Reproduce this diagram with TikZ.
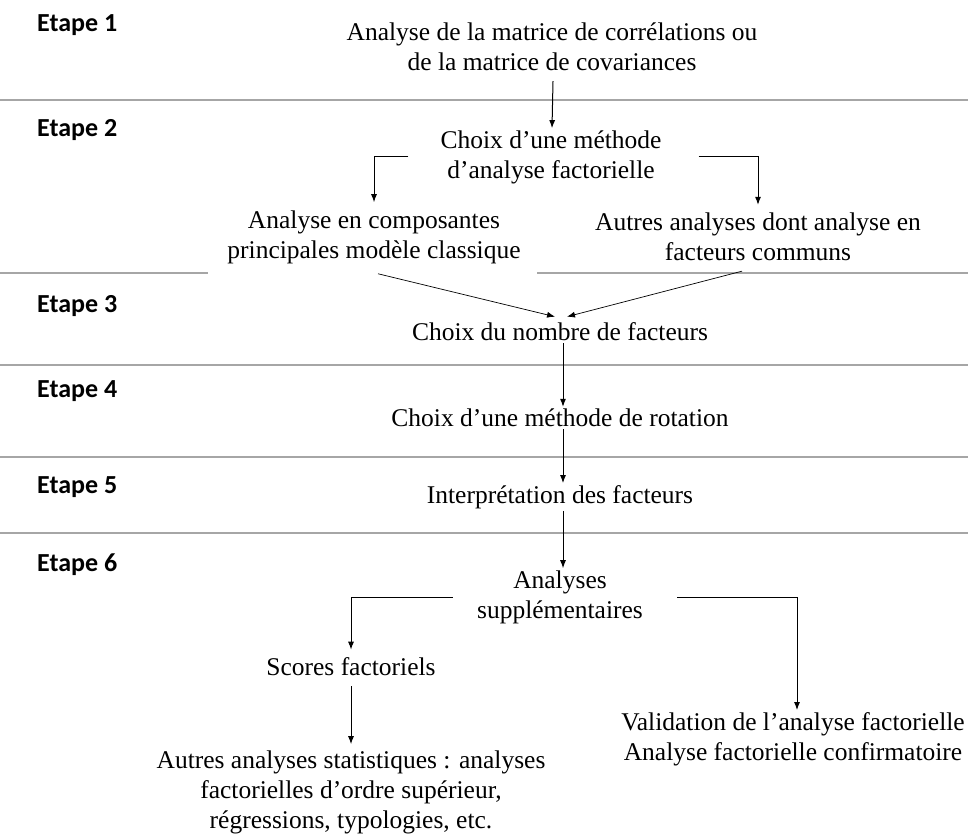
\documentclass[tikz,border=0pt]{standalone}
\usepackage{fontspec}
\setmainfont{Liberation Serif}
\newfontfamily\etapefont{Carlito}
\usetikzlibrary{arrows.meta,positioning,calc}
\definecolor{SepGray}{HTML}{A6A6A6}

\begin{document}
\begin{tikzpicture}[x=1pt, y=-1pt,
  etape/.style={anchor=base west, inner sep=0pt, font=\etapefont\bfseries\fontsize{26}{30}\selectfont},
  txt/.style={align=center, inner sep=2pt, font=\fontsize{25.5}{30}\selectfont},
  fleche/.style={-{Latex[length=8pt,width=6pt]}, line width=1pt},
  sep/.style={SepGray, line width=1.2pt}]
\useasboundingbox (0,0) rectangle (968,837);

% separateurs
\foreach \y in {100,365,457,533} {
  \draw[sep] (0,\y) -- (968,\y);
}
\draw[sep] (0,273) -- (208,273);
\draw[sep] (537,273) -- (968,273);

% etapes
\foreach \n/\y in {1/32, 2/137, 3/312, 4/397, 5/493, 6/571} {
  \node[etape] (e\n) at (37,\y) {Etape \n};
}

% Etape 1
\node[txt] (mat) at (552,47) {Analyse de la matrice de corrélations ou\\de la matrice de covariances};

% Etape 2
\node[txt] (choix) at (551,157) {Choix d’une méthode\\d’analyse factorielle};
\node[txt] (acp) at (374,237) {Analyse en composantes\\principales modèle classique};
\node[txt] (autres) at (758,237) {Autres analyses dont analyse en\\facteurs communs};

% Etapes 3 a 5
\node[txt] (nombre) at (560,332) {Choix du nombre de facteurs};
\node[txt] (rotation) at (560,418) {Choix d’une méthode de rotation};
\node[txt] (interp) at (560,497) {Interprétation des facteurs};

% Etape 6
\node[txt] (supp) at (560,597) {Analyses\\supplémentaires};
\node[txt] (scores) at (351,667) {Scores factoriels};
\node[txt] (stat) at (351,792) {Autres analyses statistiques : analyses\\factorielles d’ordre supérieur,\\régressions, typologies, etc.};
\node[txt] (valid) at (793,739) {Validation de l’analyse factorielle\\Analyse factorielle confirmatoire};

% fleches
\draw[fleche] ([xshift=1pt]mat.south) ++(0,8) -- ([xshift=1pt]choix.north);
\draw[fleche, shorten <=30pt] (choix.west) -| ([yshift=6pt]acp.north);
\draw[fleche, shorten <=35pt] (choix.east) -| ([yshift=6pt]autres.north);
\draw[fleche, line width=0.7pt] ([xshift=4pt,yshift=-8pt]acp.south) -- ([xshift=-5pt,yshift=4pt]nombre.north);
\draw[fleche, line width=0.7pt] ([xshift=-16pt,yshift=-8pt]autres.south) -- ([xshift=7pt,yshift=4pt]nombre.north);
\draw[fleche] ([xshift=3pt]nombre.south) -- ([xshift=3pt]rotation.north);
\draw[fleche] ([xshift=3pt]rotation.south) -- ([xshift=3pt]interp.north);
\draw[fleche] ([xshift=3pt]interp.south) -- ([xshift=3pt]supp.north);
\draw[fleche, shorten <=22pt] (supp.west) -| ([yshift=6pt]scores.north);
\draw[fleche, shorten <=32pt] (supp.east) -| ([xshift=4pt]valid.north);
\draw[fleche] ([yshift=-8pt]scores.south) -- ([yshift=4pt]stat.north);
\end{tikzpicture}
\end{document}
